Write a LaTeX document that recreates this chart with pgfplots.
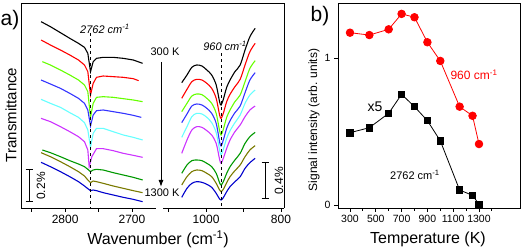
\documentclass[border=0pt]{standalone}
\usepackage{pgfplots}
\pgfplotsset{compat=1.18}
\usepackage{fontspec}
\setmainfont{Liberation Sans}
\usetikzlibrary{arrows.meta}
\definecolor{cLime}{HTML}{66FF00}
\definecolor{cBlue}{HTML}{3333FF}
\definecolor{cCyan}{HTML}{66FFFF}
\definecolor{cMag}{HTML}{CC33FF}
\definecolor{cDGreen}{HTML}{009900}
\definecolor{cOlive}{HTML}{7A7A00}
\definecolor{cNavy}{HTML}{0000CC}
\pgfplotsset{
  panela/.style={
    scale only axis, anchor=south west, height=205pt,
    ymin=-624, ymax=-9, x dir=reverse,
    axis x line*=bottom, ytick=\empty,
    tick align=outside, major tick length=4pt, minor tick length=4pt,
    axis line style={line width=0.8pt},
    every tick/.append style={black,line width=0.8pt},
    every minor tick/.append style={black,line width=0.8pt},
    tick label style={font=\fontsize{12}{12}\selectfont},
    /pgf/number format/assume math mode=true, /pgf/number format/1000 sep={},
    clip=false, every axis plot/.append style={line width=1.1pt},
  }
}
\begin{document}
\begin{tikzpicture}
\useasboundingbox (0pt,0pt) rectangle (522pt,251pt);
% ---------- panel a, left part ----------
\begin{axis}[panela, at={(21pt,43pt)}, width=135pt,
  xmin=2664, xmax=2866, axis y line*=left,
  xtick={2800,2700}, minor xtick={2850,2750}]
\addplot[black] coordinates {(2836,-65) (2822,-80) (2807,-98) (2793,-115) (2780,-130) (2771,-142) (2766,-160) (2762,-215) (2758,-185) (2753,-175) (2743,-172) (2728,-172) (2713,-175) (2698,-180) (2684,-190)};
\addplot[red] coordinates {(2836,-120) (2822,-135) (2807,-150) (2793,-165) (2780,-180) (2771,-195) (2766,-215) (2762,-285) (2758,-250) (2753,-232) (2743,-228) (2728,-230) (2713,-232) (2698,-236) (2690,-242)};
\addplot[cLime] coordinates {(2834,-185) (2822,-195) (2807,-210) (2793,-225) (2780,-240) (2771,-255) (2766,-275) (2762,-352) (2758,-310) (2753,-292) (2743,-290) (2728,-292) (2713,-296) (2698,-300) (2684,-305)};
\addplot[cBlue] coordinates {(2836,-240) (2822,-252) (2807,-265) (2793,-280) (2780,-295) (2771,-310) (2766,-330) (2762,-378) (2758,-345) (2753,-332) (2743,-330) (2728,-335) (2713,-340) (2698,-346) (2686,-352)};
\addplot[cCyan] coordinates {(2836,-298) (2822,-310) (2807,-322) (2793,-338) (2780,-352) (2771,-368) (2766,-390) (2762,-442) (2758,-400) (2753,-385) (2743,-385) (2728,-395) (2713,-405) (2698,-412) (2684,-420)};
\addplot[cMag] coordinates {(2836,-355) (2822,-365) (2807,-380) (2793,-395) (2780,-410) (2771,-425) (2766,-450) (2764,-500) (2760,-470) (2753,-446) (2743,-446) (2728,-452) (2713,-460) (2698,-466) (2684,-472)};
\addplot[cDGreen] coordinates {(2834,-450) (2822,-458) (2807,-470) (2793,-482) (2780,-492) (2771,-500) (2766,-508) (2762,-515) (2758,-510) (2753,-508) (2743,-510) (2728,-518) (2713,-525) (2698,-532) (2684,-540)};
\addplot[cOlive] coordinates {(2836,-458) (2822,-470) (2807,-485) (2793,-500) (2780,-515) (2771,-528) (2766,-540) (2762,-548) (2758,-543) (2753,-545) (2743,-550) (2728,-558) (2713,-565) (2698,-572) (2684,-578)};
\addplot[cNavy] coordinates {(2836,-487) (2822,-500) (2807,-515) (2793,-530) (2780,-545) (2771,-558) (2766,-566) (2762,-572) (2758,-570) (2753,-572) (2743,-578) (2728,-585) (2713,-592) (2698,-598) (2684,-605)};
\draw[dashed, line width=0.7pt] (axis cs:2762,-100) -- (axis cs:2762,-624);
\end{axis}
% ---------- panel a, right part ----------
\begin{axis}[panela, at={(163pt,43pt)}, width=121pt,
  xmin=792, xmax=1115, axis y line*=right,
  xtick={1000,800}, minor xtick={1100,900},
  every axis plot/.append style={smooth, tension=0.5}]
\addplot[black] coordinates {(1065,-248) (1051,-225) (1038,-202) (1025,-195) (1011,-198) (998,-210) (985,-225) (973,-255) (964,-305) (960,-315) (954,-298) (945,-262) (936,-240) (923,-215) (909,-195) (896,-150) (883,-110) (869,-85)};
\addplot[red] coordinates {(1065,-295) (1051,-268) (1038,-245) (1025,-238) (1011,-240) (998,-250) (985,-265) (973,-295) (964,-345) (960,-355) (954,-340) (945,-305) (936,-283) (923,-260) (909,-238) (896,-195) (883,-155) (869,-130)};
\addplot[cLime] coordinates {(1065,-335) (1051,-310) (1038,-288) (1025,-282) (1011,-284) (998,-295) (985,-310) (973,-340) (964,-392) (960,-405) (954,-388) (945,-352) (936,-330) (923,-305) (909,-285) (896,-245) (883,-205) (869,-182)};
\addplot[cBlue] coordinates {(1065,-368) (1051,-342) (1038,-318) (1025,-312) (1011,-315) (998,-325) (985,-340) (973,-370) (964,-425) (960,-438) (954,-420) (945,-385) (936,-362) (923,-338) (909,-318) (896,-278) (883,-240) (869,-218)};
\addplot[cCyan] coordinates {(1065,-412) (1051,-380) (1038,-350) (1025,-340) (1011,-342) (998,-352) (985,-368) (973,-398) (964,-450) (960,-465) (954,-448) (945,-415) (936,-392) (923,-368) (909,-345) (896,-310) (883,-285) (869,-270)};
\addplot[cMag] coordinates {(1065,-460) (1051,-420) (1038,-390) (1025,-380) (1011,-382) (998,-392) (985,-405) (973,-430) (964,-478) (960,-490) (954,-475) (945,-445) (936,-420) (923,-395) (909,-375) (896,-350) (883,-330) (869,-318)};
\addplot[cDGreen] coordinates {(1065,-520) (1051,-495) (1038,-482) (1025,-480) (1011,-482) (998,-490) (985,-500) (973,-520) (964,-548) (960,-555) (954,-545) (945,-520) (936,-500) (923,-480) (909,-460) (896,-430) (883,-410) (869,-397)};
\addplot[cOlive] coordinates {(1065,-555) (1051,-530) (1038,-515) (1025,-510) (1011,-512) (998,-520) (985,-530) (973,-550) (964,-570) (960,-575) (954,-568) (945,-548) (936,-530) (923,-512) (909,-495) (896,-470) (883,-450) (869,-437)};
\addplot[cNavy] coordinates {(1065,-592) (1051,-565) (1038,-550) (1025,-545) (1011,-547) (998,-553) (985,-562) (973,-580) (964,-597) (960,-600) (954,-593) (945,-575) (936,-560) (923,-545) (909,-530) (896,-505) (883,-488) (869,-475)};
\draw[dashed, line width=0.7pt] (axis cs:960,-160) -- (axis cs:960,-624);
\end{axis}
% top frame line of panel a
\draw[line width=0.8pt] (21pt,248pt) -- (284pt,248pt);
% ---------- panel b ----------
\begin{axis}[at={(338pt,43pt)}, anchor=south west, scale only axis,
  width=182pt, height=205pt,
  xmin=207, xmax=1618, ymin=-0.02, ymax=1.374,
  xtick={300,500,700,900,1100,1300}, minor xtick={200,400,600,800,1000,1200,1400},
  ytick={0,1}, xtick pos=bottom, ytick pos=left,
  tick align=outside, major tick length=4pt, minor tick length=3pt,
  axis line style={line width=0.8pt},
  every tick/.append style={black,line width=0.8pt},
  every minor tick/.append style={black,line width=0.8pt},
  tick label style={font=\fontsize{10.5}{10.5}\selectfont},
  /pgf/number format/assume math mode=true, /pgf/number format/1000 sep={},
  clip=false]
\addplot[red, line width=0.8pt, mark=*, mark size=3.8pt] coordinates {(300,1.172) (450,1.156) (600,1.195) (700,1.30) (800,1.277) (900,1.107) (1000,0.98) (1150,0.669) (1250,0.607) (1300,0.415)};
\addplot[black, line width=0.8pt, mark=square*, mark size=3.2pt] coordinates {(300,0.492) (450,0.526) (600,0.624) (700,0.753) (800,0.669) (900,0.574) (1000,0.437) (1150,0.102) (1250,0.066) (1300,0.005)};
\end{axis}
% ---------- labels and annotations ----------
\node[font=\fontsize{21}{21}\selectfont] at (10pt,231pt) {a)};
\node[font=\fontsize{21}{21}\selectfont] at (320pt,235pt) {b)};
\node[rotate=90, font=\fontsize{15}{15}\selectfont] at (11pt,136pt) {Transmittance};
\node[font=\fontsize{16}{16}\selectfont] at (158pt,12pt) {Wavenumber (cm\textsuperscript{-1})};
\node[rotate=90, font=\fontsize{12}{12}\selectfont] at (314pt,131pt) {Signal intensity (arb. units)};
\node[font=\fontsize{16}{16}\selectfont] at (428pt,12pt) {Temperature (K)};
\node[font=\fontsize{11}{11}\selectfont\itshape] at (105pt,222pt) {2762 cm\textsuperscript{-1}};
\node[font=\fontsize{11}{11}\selectfont\itshape] at (225pt,205pt) {960 cm\textsuperscript{-1}};
\node[font=\fontsize{11}{11}\selectfont] at (165pt,199pt) {300 K};
\node[font=\fontsize{11}{11}\selectfont] at (162pt,58pt) {1300 K};
\draw[-{Latex[length=7pt,width=5pt]}, line width=1pt] (161pt,189pt) -- (161pt,64pt);
% scale bars
\draw[line width=1pt] (29pt,81pt) -- (29pt,49pt) (25.5pt,81pt) -- (32.5pt,81pt) (25.5pt,49pt) -- (32.5pt,49pt);
\node[rotate=90, font=\fontsize{12}{12}\selectfont] at (41pt,65pt) {0.2\%};
\draw[line width=1pt] (265pt,88pt) -- (265pt,52pt) (261.5pt,88pt) -- (268.5pt,88pt) (261.5pt,52pt) -- (268.5pt,52pt);
\node[rotate=90, font=\fontsize{12}{12}\selectfont] at (279pt,70pt) {0.4\%};
% panel b annotations
\node[red, font=\fontsize{12}{12}\selectfont] at (474pt,176pt) {960 cm\textsuperscript{-1}};
\node[font=\fontsize{14}{14}\selectfont] at (375pt,144pt) {x5};
\node[font=\fontsize{11}{11}\selectfont] at (415pt,76pt) {2762 cm\textsuperscript{-1}};
\end{tikzpicture}
\end{document}
